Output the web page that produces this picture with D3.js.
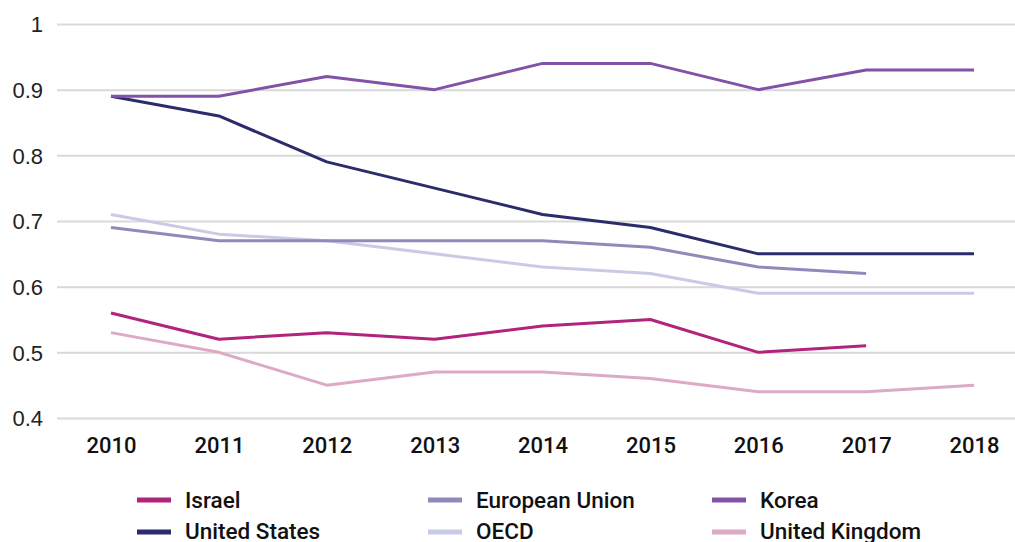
<!DOCTYPE html>
<html><head><meta charset="utf-8">
<script src="https://cdn.jsdelivr.net/npm/d3@7"></script>
<style>body{margin:0;background:#fff}</style>
</head><body><svg id="c" width="1015" height="542"></svg>
<script>
const years = ["2010","2011","2012","2013","2014","2015","2016","2017","2018"];
const yTicks = [0.4,0.5,0.6,0.7,0.8,0.9,1];
const israel = [0.56,0.52,0.53,0.52,0.54,0.55,0.50,0.51,null];
const unitedStates = [0.89,0.86,0.79,0.75,0.71,0.69,0.65,0.65,0.65];
const europeanUnion = [0.69,0.67,0.67,0.67,0.67,0.66,0.63,0.62,null];
const oecd = [0.71,0.68,0.67,0.65,0.63,0.62,0.59,0.59,0.59];
const korea = [0.89,0.89,0.92,0.90,0.94,0.94,0.90,0.93,0.93];
const unitedKingdom = [0.53,0.50,0.45,0.47,0.47,0.46,0.44,0.44,0.45];
const seriesNames = ["Israel","United States","European Union","OECD","Korea","United Kingdom"];
const seriesColors = ["#b2237c","#2c2b6c","#9189b9","#c9cae6","#8252a8","#dcaac4"];
const seriesValues = [israel,unitedStates,europeanUnion,oecd,korea,unitedKingdom];

const svg = d3.select("#c");
const font = "'Liberation Sans', Arial, sans-serif";
const fontM = "Roboto, 'Liberation Sans', Arial, sans-serif";
const x = d3.scalePoint().domain(years).range([111,974]);
const y = d3.scaleLinear().domain([0.4,1]).range([418,24]);

// gridlines + y labels
const yAxis = d3.axisLeft(y).tickValues(yTicks).tickSize(-(1015-57)).tickFormat(d=>d3.format("")(d)).tickPadding(14);
const gy = svg.append("g").attr("transform","translate(57,0)").call(yAxis);
gy.select(".domain").remove();
gy.selectAll(".tick line").attr("stroke","#d9d9d9").attr("stroke-width",2);
gy.selectAll(".tick text").attr("font-family",font).attr("font-size",22).attr("fill","#222").attr("x",-14).attr("dy","0.36em");

const xAxis = d3.axisBottom(x).tickSize(0).tickPadding(0);
const gx = svg.append("g").attr("transform","translate(0,453)").call(xAxis);
gx.select(".domain").remove();
gx.selectAll(".tick text").attr("font-family",fontM).attr("font-size",22).attr("font-weight",500).attr("fill","#111").attr("dy","0").attr("y",0);

// lines, back to front
const order = [5,3,2,0,1,4];
const line = d3.line().defined(d=>d!=null).x((d,i)=>x(years[i])).y(d=>y(d));
order.forEach(k=>{
  svg.append("path").datum(seriesValues[k]).attr("d",line)
    .attr("fill","none").attr("stroke",seriesColors[k]).attr("stroke-width",3).attr("stroke-linejoin","round");
});

// legend
const colX = [137,428,712];
const rowY = [500,532];
seriesNames.forEach((n,i)=>{
  const c = Math.floor(i/2), r = i%2;
  const g = svg.append("g").attr("transform",`translate(${colX[c]},${rowY[r]})`);
  g.append("rect").attr("x",0).attr("y",-2.5).attr("width",34).attr("height",5).attr("fill",seriesColors[i]);
  g.append("text").attr("x",48).attr("y",r===0?8:7).attr("font-family",fontM).attr("font-size",22.5).attr("font-weight",500).attr("fill","#111").text(n);
});
</script></body></html>
